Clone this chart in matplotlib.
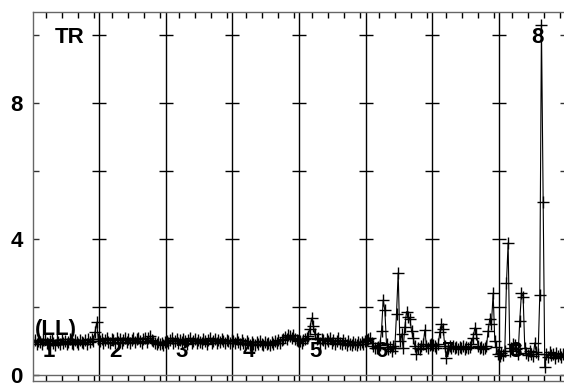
import numpy as np
import matplotlib
matplotlib.use("Agg")
import matplotlib.pyplot as plt

plt.rcParams['font.family'] = ['Liberation Sans', 'DejaVu Sans']

# one list of readings per segment (40 samples each)
seg1 = [0.96, 1.03, 0.92, 1.01, 0.97, 0.90, 1.02, 1.05, 0.94, 0.91,
        0.99, 1.04, 0.93, 0.89, 1.02, 0.97, 0.92, 1.05, 0.95, 1.01,
        0.91, 0.98, 1.06, 0.94, 0.90, 1.03, 0.97, 0.92, 1.04, 0.96,
        0.93, 1.02, 0.91, 1.05, 0.97, 1.06, 1.00, 1.25, 1.55, 1.05]
seg2 = [1.00, 1.06, 0.95, 1.03, 1.08, 0.97, 0.93, 1.06, 1.02, 0.95,
        1.08, 0.98, 1.05, 0.94, 1.03, 1.09, 0.97, 1.06, 0.93, 1.02,
        1.08, 0.97, 1.05, 1.10, 1.01, 0.95, 1.06, 1.08, 0.98, 1.10,
        1.14, 1.04, 1.00, 0.94, 0.92, 0.98, 0.90, 0.95, 0.89, 0.96]
seg3 = [1.00, 0.93, 1.04, 1.08, 0.95, 1.00, 1.06, 0.93, 1.03, 0.96,
        1.07, 0.99, 0.92, 1.04, 1.08, 0.95, 1.01, 1.06, 0.93, 1.04,
        0.98, 0.95, 1.07, 1.00, 0.92, 1.04, 1.08, 0.95, 1.00, 1.06,
        0.93, 1.04, 0.96, 1.07, 0.99, 0.93, 1.04, 1.00, 0.95, 1.03]
seg4 = [1.00, 0.94, 1.05, 0.96, 0.92, 1.03, 0.95, 0.90, 1.00, 0.93,
        0.89, 0.98, 0.92, 0.88, 0.97, 0.90, 0.99, 0.92, 0.87, 0.97,
        0.90, 0.95, 0.88, 0.98, 0.91, 1.00, 0.93, 1.02, 0.95, 1.04,
        1.06, 1.12, 1.07, 1.16, 1.13, 1.08, 1.17, 1.06, 1.03, 1.00]
seg5 = [1.00, 0.95, 1.04, 1.05, 1.10, 1.15, 1.35, 1.67, 1.45, 1.20,
        1.05, 1.08, 0.95, 1.07, 1.02, 0.94, 1.06, 0.99, 1.09, 0.95,
        1.04, 0.92, 1.00, 1.08, 0.94, 0.91, 1.03, 0.93, 0.89, 0.99,
        0.92, 0.88, 0.98, 0.91, 0.87, 0.97, 0.90, 0.98, 0.91, 0.99]
seg6 = [1.02, 1.05, 1.09, 0.95, 0.85, 0.80, 0.78, 0.83, 0.88, 1.30,
        2.20, 1.90, 0.90, 0.75, 0.82, 0.70, 0.85, 0.80, 1.80, 3.00,
        1.00, 1.20, 0.78, 1.40, 1.86, 1.70, 1.65, 1.30, 1.10, 0.85,
        0.62, 0.80, 0.76, 0.84, 0.90, 1.32, 0.85, 0.80, 0.88, 0.92]
seg7 = [0.88, 0.85, 0.80, 0.90, 1.25, 1.50, 1.35, 0.85, 0.50, 0.80,
        0.84, 0.78, 0.86, 0.80, 0.83, 0.77, 0.82, 0.79, 0.84, 0.76,
        0.81, 0.78, 0.83, 0.90, 1.10, 1.38, 1.20, 0.85, 0.78, 0.82,
        0.76, 0.80, 0.85, 1.30, 1.65, 1.50, 2.40, 1.00, 0.82, 0.62]
seg8 = [0.55, 0.65, 0.58, 0.70, 2.70, 3.88, 0.70, 0.80, 0.92, 0.88,
        0.75, 0.62, 1.60, 2.42, 2.30, 0.80, 0.65, 0.58, 0.70, 0.62,
        0.55, 0.94, 0.68, 0.60, 2.35, 10.30, 5.10, 0.24, 0.60, 0.52,
        0.66, 0.58, 0.62, 0.50, 0.64, 0.56, 0.60, 0.54, 0.62, 0.58]

segments = [seg1, seg2, seg3, seg4, seg5, seg6, seg7, seg8]
seg_names = ["1", "2", "3", "4", "5", "6", "7", "8"]
seg_len = 25
x_minor = [5, 11, 17, 23]
y_major = [0, 4, 8]
y_minor = [2, 6, 10]

# sample positions within each segment
xs, ys = [], []
for k, seg in enumerate(segments):
    n = len(seg)
    xs.extend(k * seg_len + (np.arange(n) + 0.5) * seg_len / n)
    ys.extend(seg)

fig = plt.figure(figsize=(5.64, 3.89), dpi=100)
ax = fig.add_axes([32.5 / 564, 8 / 389, 533.1 / 564, 369 / 389])

ax.set_xlim(0, seg_len * len(segments))
ax.set_ylim(-0.18, 10.68)

# segment separators with small crosses every 2 units
for k in range(1, len(segments)):
    ax.axvline(k * seg_len, color='black', lw=1)
    ax.plot([k * seg_len] * 5, [2, 4, 6, 8, 10], ls='none', marker='_',
            ms=9.5, mew=1, color='black')
ax.axhline(0, color='#666666', lw=1)

ax.plot(xs, ys, color='black', lw=0.8, marker='+', ms=9, mew=1)

# ticks
xt = [k * seg_len + t for k in range(len(segments)) for t in x_minor]
ax.set_xticks(xt)
ax.set_xticklabels([])
ax.tick_params(axis='x', which='both', direction='in', length=4.3, width=1,
               top=True, bottom=True, color='black')
ax.set_yticks(y_major)
ax.set_yticks(y_minor, minor=True)
ax.set_yticklabels([str(v) for v in y_major], fontsize=16, fontweight='bold')
ax.tick_params(axis='y', which='both', direction='in', length=4.5, width=1,
               left=True, right=True, color='#333333', pad=7)

for s in ax.spines.values():
    s.set_color('#666666')
    s.set_linewidth(1)

# annotations
ax.text(8.3, 9.94, "TR", fontsize=16, fontweight='bold', va='center', ha='left')
ax.text(0.9, 1.35, "(LL)", fontsize=16, fontweight='bold', va='center', ha='left')
ax.text(189.6, 9.94, "8", fontsize=16, fontweight='bold', va='center', ha='center')
for k, name in enumerate(seg_names):
    ax.text(k * seg_len + 6, 0.68, name, fontsize=16, fontweight='bold',
            va='center', ha='center')

fig.savefig("out.png", dpi=100)
